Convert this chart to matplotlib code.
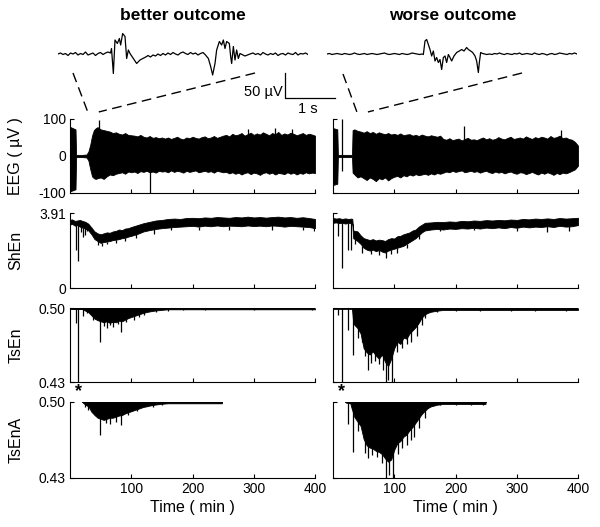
import numpy as np
import matplotlib
matplotlib.use("Agg")
import matplotlib.pyplot as plt
from matplotlib.lines import Line2D

plt.rcParams["font.family"] = ["Liberation Sans", "DejaVu Sans"]
plt.rcParams["axes.unicode_minus"] = False

# ---- raw EEG snippets shown on top (seconds, uV) ----
better_snip_t = np.concatenate([
    np.linspace(0, 1.05, 22),
    [1.07, 1.107, 1.14, 1.187, 1.227, 1.253, 1.293, 1.34, 1.373, 1.407, 1.44, 1.507, 1.573, 1.64, 1.773],
    np.linspace(1.80, 2.95, 24),
    [3.007, 3.053, 3.093, 3.14, 3.173, 3.227, 3.273, 3.307, 3.34, 3.373,
     3.427, 3.453, 3.473, 3.507, 3.54, 3.573, 3.607, 3.64, 3.74, 3.84],
    np.linspace(3.90, 5.0, 23),
])
better_snip_uv = np.array(
    [0, 2, -1, 1, -3, 2, 0, 3, -2, 1, -1, 4, -2, 0, 2, -3, 1, 3, -1, 2, 4, 2]
    + [11, -39, 28, 21, 31, 18, 41, 35, -9, 8, 1, -9, -19, -12, -5]
    + [-3, -6, -2, -4, 0, -3, 1, -2, 2, -1, 3, 0, -2, 2, 4, 1, -1, 3, 0, 2, -2, 1, 3, -2]
    + [-9, -25, -42, -19, 8, 25, 18, 28, 11, 25, 21, -5, -19, 15, -12, 8, -9, 1, -4, 0]
    + [2, -1, 1, -2, 3, 0, -2, 1, -1, 2, -3, 0, 1, -2, 2, 0, -1, 3, -2, 1, 0, 2, -1]
)
worse_snip_t = np.concatenate([
    np.linspace(0, 1.9, 39),
    [1.927, 1.96, 1.993, 2.027, 2.06, 2.093, 2.127, 2.16, 2.193, 2.227,
     2.26, 2.293, 2.327, 2.36, 2.393, 2.427, 2.46, 2.493, 2.54, 2.593,
     2.647, 2.693, 2.74, 2.793, 2.827, 2.873, 2.913, 2.96, 2.993, 3.027,
     3.047, 3.073, 3.113, 3.193],
    np.linspace(3.25, 5.0, 36),
])
worse_snip_uv = np.array(
    [0, 1, -1, 0, 1, 0, -1, 1, 0, -1, 0, 2, 0, -1, 0, 1, -1, 0, 1, 0,
     -1, 0, 1, 2, 0, -1, 0, 1, 0, -1, 1, 0, -1, 0, 2, 1, 0, -1, 0]
    + [-1, 26, 29, 19, 9, -4, 6, -14, -7, -17, -11, -31, -7, -4, -17, -1, -7, -14, -4, 3,
       6, 9, 6, 13, 9, 6, 3, -4, -14, -37, -17, 3, 1, -1]
    + [0, -1, 1, 0, 2, 0, -1, 1, 0, -1, 1, 0, 2, -1, 0, 1, 0, -1, 2, 0,
       -1, 1, 0, -2, 0, 1, -1, 0, 2, 1, 0, -1, 1, 0, 2, 0]
)

# ---- EEG amplitude envelopes (min, uV) ----
eeg_b_t = [0, 1, 9, 10, 12, 20, 27, 30, 33, 36, 39, 42, 45, 50, 55, 60, 65, 70, 75, 80, 85, 90, 95] + list(range(100, 401, 5))
eeg_b_hi = [75, 78, 72, 3, 3, 3, 4, 12, 30, 55, 70, 75, 78, 72, 70, 68, 66, 62, 64, 60, 58, 62, 57,
            56, 55, 53, 57, 52, 50, 54, 49, 51, 48, 50,
            47, 50, 46, 49, 52, 47, 45, 50, 48, 52, 49, 47, 51, 53, 48, 50, 54, 49, 52, 55,
            57, 53, 60, 56, 58, 62, 55, 59, 63, 57, 61, 58, 64, 60, 56, 62, 59, 65, 57, 61,
            58, 63, 60, 56, 59, 62, 57, 60, 58, 55]
eeg_b_lo = [-92, -95, -90, -3, -3, -3, -4, -12, -35, -55, -60, -62, -60, -58, -62, -55, -50, -52, -48, -46, -44, -48, -42,
            -44, -42, -46, -41, -43, -40, -44, -42, -45, -40, -42,
            -41, -44, -39, -43, -40, -42, -45, -40, -43, -41, -39, -44, -42, -40, -43, -41, -45, -40, -42, -44,
            -43, -47, -44, -48, -45, -50, -46, -44, -49, -45, -47, -51, -46, -44, -48, -45, -50, -46, -47, -49,
            -44, -48, -45, -50, -46, -48, -44, -47, -45, -46]
eeg_b_spk_t = [47, 131, 290, 335, 362]
eeg_b_spk_lo = [0, -100, 0, 0, 0]
eeg_b_spk_hi = [98, 0, 72, 75, 74]

eeg_w_t = [0, 1, 7, 8, 10, 20, 31, 32, 35, 40, 45, 50, 55, 60, 65, 70, 75, 80, 85, 90, 95] + list(range(100, 176, 5)) + list(range(180, 401, 5))
eeg_w_hi = [70, 75, 72, 3, 3, 3, 3, 70, 72, 68, 66, 63, 67, 62, 65, 60, 64, 61, 59, 62, 58,
            60, 57, 61, 56, 58, 59, 55, 57, 54, 58, 55, 53, 56, 54, 52, 55,
            46, 44, 48, 43, 45, 47, 42, 46, 49, 44, 45, 43, 47, 50, 45, 48, 44, 46, 51, 47,
            45, 49, 52, 46, 48, 50, 47, 53, 49, 46, 51, 48, 52, 50, 47, 54, 49, 51, 55, 48,
            50, 46, 44, 38, 28]
eeg_w_lo = [-72, -78, -75, -3, -3, -3, -3, -45, -50, -58, -55, -60, -65, -58, -62, -68, -60, -63, -58, -66, -60,
            -56, -54, -58, -52, -55, -50, -53, -49, -52, -50, -48, -51, -47, -50, -46, -48,
            -45, -42, -44, -40, -43, -41, -39, -44, -42, -40, -43, -41, -45, -42, -40, -44, -46, -42, -45, -43,
            -47, -44, -42, -46, -48, -44, -45, -49, -46, -43, -47, -50, -45, -48, -44, -47, -51, -46, -49, -45,
            -47, -44, -40, -36, -26]
eeg_w_spk_t = [14, 214, 372]
eeg_w_spk_lo = [-40, 0, 0]
eeg_w_spk_hi = [100, 80, 70]

# ---- Shannon entropy band ----
shen_b_t = [0, 3, 8, 12, 16, 20, 25, 30, 35, 40, 45, 50, 55, 60, 65, 70, 75, 80, 85, 90,
            95, 100, 110, 120, 130, 140, 150, 160, 170, 180, 190, 200, 210, 220, 230, 240, 250, 260, 270, 280,
            290, 300, 310, 320, 330, 340, 350, 360, 370, 380, 390, 400]
shen_b_hi = [3.55, 3.58, 3.5, 3.52, 3.55, 3.5, 3.45, 3.35, 3.15, 2.95, 2.85, 2.8, 2.85, 2.9, 2.88, 2.95, 2.98, 3.05, 3.02, 3.1,
             3.12, 3.18, 3.28, 3.38, 3.45, 3.52, 3.55, 3.6, 3.62, 3.6, 3.65, 3.66, 3.64, 3.68, 3.66, 3.7, 3.68, 3.66, 3.7, 3.68,
             3.72, 3.68, 3.7, 3.67, 3.7, 3.72, 3.68, 3.7, 3.66, 3.69, 3.65, 3.6]
shen_b_lo = [3.3, 3.35, 3.25, 3.28, 3.2, 3.15, 3.1, 3.0, 2.8, 2.55, 2.45, 2.35, 2.4, 2.42, 2.45, 2.5, 2.52, 2.55, 2.6, 2.62,
             2.68, 2.72, 2.82, 2.95, 3.02, 3.08, 3.12, 3.15, 3.18, 3.2, 3.22, 3.24, 3.2, 3.25, 3.22, 3.26, 3.22, 3.25, 3.24, 3.22,
             3.26, 3.23, 3.25, 3.22, 3.26, 3.24, 3.2, 3.24, 3.22, 3.2, 3.18, 3.12]
shen_b_spk_t = [10, 13, 18, 21, 24, 27, 46, 52, 60, 75, 90, 108, 137, 165, 210, 260, 330, 380, 398]
shen_b_spk_v = [2.0, 1.4, 2.9, 2.65, 2.75, 2.95, 2.25, 2.2, 2.3, 2.35, 2.45, 2.6, 2.8, 3.0, 3.05, 3.05, 3.05, 3.0, 2.95]

shen_w_t = [0, 5, 10, 15, 20, 25, 30, 31.5, 33, 40, 45, 50, 55, 60, 65, 70, 75, 80, 85, 90,
            95, 100, 105, 110, 115, 120, 125, 130, 135, 140, 145, 150, 160, 170, 180, 190, 200, 210, 220, 230,
            240, 250, 260, 270, 280, 290, 300, 310, 320, 330, 340, 350, 360, 370, 380, 390, 400]
shen_w_hi = [3.65, 3.62, 3.64, 3.6, 3.63, 3.6, 3.62, 3.6, 3.0, 2.95, 2.75, 2.6, 2.55, 2.5, 2.55, 2.48, 2.52, 2.5, 2.45, 2.55,
             2.6, 2.58, 2.7, 2.72, 2.8, 2.85, 2.9, 3.0, 3.05, 3.2, 3.3, 3.4, 3.42, 3.45, 3.44, 3.47, 3.45, 3.5, 3.48, 3.52,
             3.5, 3.54, 3.52, 3.55, 3.53, 3.57, 3.55, 3.6, 3.58, 3.62, 3.6, 3.63, 3.6, 3.65, 3.62, 3.64, 3.66]
shen_w_lo = [3.4, 3.42, 3.38, 3.4, 3.36, 3.4, 3.38, 3.35, 2.6, 2.45, 2.3, 2.1, 2.0, 1.95, 2.0, 1.92, 1.98, 1.9, 1.85, 1.95,
             2.0, 2.05, 2.1, 2.15, 2.2, 2.3, 2.4, 2.5, 2.6, 2.75, 2.9, 3.0, 3.05, 3.08, 3.05, 3.1, 3.08, 3.12, 3.1, 3.14,
             3.1, 3.15, 3.12, 3.16, 3.12, 3.18, 3.14, 3.2, 3.16, 3.2, 3.18, 3.22, 3.18, 3.24, 3.2, 3.22, 3.28]
shen_w_spk_t = [8, 14, 25, 30, 36, 48, 62, 75, 87, 95, 105, 120, 140, 175, 230, 300, 350, 385]
shen_w_spk_v = [2.7, 1.04, 2.0, 2.0, 2.3, 1.85, 1.75, 1.7, 1.57, 1.75, 1.85, 2.1, 2.55, 2.95, 3.0, 2.95, 2.9, 2.95]

# ---- Tsallis entropy (lower envelope, upper stays at 0.50) ----
tsen_b_t = [0, 20, 25, 30, 35, 40, 45, 50, 55, 60, 65, 70, 75, 80, 85, 90, 95, 100, 105, 110,
            115, 120, 125, 130, 135, 140, 145, 150, 160, 400]
tsen_b_lo = [0.4993, 0.499, 0.4975, 0.496, 0.493, 0.490, 0.4885, 0.4875, 0.4865, 0.4875,
             0.486, 0.487, 0.4865, 0.488, 0.4875, 0.489, 0.4905, 0.4915, 0.4925, 0.4935,
             0.4945, 0.4955, 0.4962, 0.4968, 0.4973, 0.4977, 0.498, 0.4983, 0.4988, 0.4988]
tsen_b_spk_t = [10, 13.6, 22, 28, 38, 49, 55, 60, 66, 70, 78, 84, 92, 105, 112, 120, 140, 160, 185, 220, 300, 395]
tsen_b_spk_v = [0.4857, 0.43, 0.492, 0.4955, 0.4885, 0.468, 0.483, 0.481, 0.4835, 0.482,
                0.4845, 0.4777, 0.4865, 0.489, 0.4915, 0.493, 0.4965, 0.4975, 0.498, 0.4982, 0.4982, 0.498]

tsen_w_t = [0, 31, 33, 35, 40, 45, 50, 55, 60, 65, 70, 75, 80, 85, 90, 95, 100, 105, 110, 115,
            120, 125, 130, 135, 140, 145, 150, 155, 160, 170, 180, 400]
tsen_w_lo = [0.4993, 0.4993, 0.486, 0.484, 0.481, 0.476, 0.462, 0.458, 0.456, 0.459,
             0.455, 0.452, 0.456, 0.449, 0.445, 0.452, 0.462, 0.468, 0.466, 0.472,
             0.471, 0.476, 0.479, 0.482, 0.486, 0.491, 0.494, 0.4955, 0.4965, 0.4975, 0.4982, 0.4982]
tsen_w_spk_t = [8, 14, 25, 32, 40, 47, 52, 57, 62, 68, 75, 82, 87, 90, 97, 105, 112, 120, 127, 137,
                145, 150, 170, 200, 240, 290, 330, 380]
tsen_w_spk_v = [0.4936, 0.43, 0.4793, 0.4555, 0.472, 0.468, 0.455, 0.441, 0.448, 0.450,
                0.447, 0.441, 0.43, 0.432, 0.43, 0.458, 0.462, 0.466, 0.468, 0.474,
                0.484, 0.491, 0.4965, 0.4975, 0.4972, 0.4975, 0.497, 0.4972]
artifact_t = [13.6, 14]  # marked with *

tsena_b_t = [21, 25, 30, 35, 40, 45, 50, 55, 60, 65, 70, 75, 80, 85, 90, 95, 100, 105, 110, 115,
             120, 125, 130, 135, 140, 145, 150, 160, 248]
tsena_b_lo = [0.4995, 0.4975, 0.496, 0.491, 0.488, 0.4855, 0.4845, 0.4835, 0.4845, 0.4855,
              0.4855, 0.4865, 0.4875, 0.488, 0.4895, 0.4905, 0.4915, 0.4925, 0.4935, 0.4945,
              0.4955, 0.496, 0.4967, 0.4972, 0.4977, 0.498, 0.4984, 0.4988, 0.4988]
tsena_b_spk_t = [25, 30, 49, 58, 66, 75, 84, 95, 110, 135, 150]
tsena_b_spk_v = [0.495, 0.4925, 0.4696, 0.481, 0.4795, 0.482, 0.4787, 0.488, 0.4915, 0.4955, 0.4972]

tsena_w_t = [21, 28, 30, 35, 40, 45, 50, 55, 60, 65, 70, 75, 80, 85, 90, 95, 100, 105, 110, 115,
             120, 125, 130, 135, 140, 145, 150, 155, 160, 170, 180, 249]
tsena_w_lo = [0.4995, 0.499, 0.495, 0.486, 0.482, 0.478, 0.466, 0.460, 0.458, 0.457,
              0.455, 0.454, 0.452, 0.448, 0.445, 0.447, 0.456, 0.462, 0.464, 0.468,
              0.470, 0.474, 0.477, 0.481, 0.485, 0.489, 0.492, 0.4945, 0.496, 0.4975, 0.4982, 0.4982]
tsena_w_spk_t = [25, 32, 40, 52, 57, 63, 72, 80, 87, 92, 98, 106, 113, 120, 127, 133, 140, 150, 175, 200, 225, 245]
tsena_w_spk_v = [0.480, 0.4538, 0.473, 0.453, 0.448, 0.451, 0.449, 0.444, 0.43, 0.433,
                 0.43, 0.452, 0.458, 0.460, 0.465, 0.468, 0.476, 0.485, 0.4975, 0.4972, 0.4975, 0.497]

titles = ["better outcome", "worse outcome"]
row_labels = ["EEG ( \u00b5V )", "ShEn", "TsEn", "TsEnA"]

fig = plt.figure(figsize=(6.0, 5.27), dpi=100)

col_x = [70 / 600, 333 / 600]
col_w = 245 / 600
rows = [(0.6338, 0.1404), (0.4535, 0.1423), (0.2751, 0.1404), (0.0930, 0.1442)]


def style(ax, left, ylim, yticks, yticklabels, bottom_row):
    ax.set_xlim(0, 400)
    ax.set_ylim(*ylim)
    for s in ("top", "right"):
        ax.spines[s].set_visible(False)
    for s in ("left", "bottom"):
        ax.spines[s].set_linewidth(0.8)
    ax.tick_params(direction="in", length=3, width=0.8, labelsize=10, pad=3)
    ax.set_xticks([100, 200, 300, 400])
    ax.set_yticks(yticks)
    if left:
        ax.set_yticklabels(yticklabels)
    else:
        ax.set_yticklabels([])
    if bottom_row:
        ax.set_xlabel("Time ( min )", fontsize=11.5, labelpad=3)
    else:
        ax.set_xticklabels([])


eeg = [(eeg_b_t, eeg_b_hi, eeg_b_lo, eeg_b_spk_t, eeg_b_spk_lo, eeg_b_spk_hi),
       (eeg_w_t, eeg_w_hi, eeg_w_lo, eeg_w_spk_t, eeg_w_spk_lo, eeg_w_spk_hi)]
shen = [(shen_b_t, shen_b_hi, shen_b_lo, shen_b_spk_t, shen_b_spk_v),
        (shen_w_t, shen_w_hi, shen_w_lo, shen_w_spk_t, shen_w_spk_v)]
tsen = [(tsen_b_t, tsen_b_lo, tsen_b_spk_t, tsen_b_spk_v),
        (tsen_w_t, tsen_w_lo, tsen_w_spk_t, tsen_w_spk_v)]
tsena = [(tsena_b_t, tsena_b_lo, tsena_b_spk_t, tsena_b_spk_v),
         (tsena_w_t, tsena_w_lo, tsena_w_spk_t, tsena_w_spk_v)]

axes = []
for c in range(2):
    left = c == 0
    col = []
    # EEG
    ax = fig.add_axes([col_x[c], rows[0][0], col_w, rows[0][1]])
    t, hi, lo, st, slo, shi = eeg[c]
    ax.fill_between(t, lo, hi, color="k", lw=0.6)
    ax.vlines(st, slo, shi, color="k", lw=0.9)
    style(ax, left, (-100, 100), [-100, 0, 100], ["-100", "0", "100"], False)
    col.append(ax)
    # ShEn
    ax = fig.add_axes([col_x[c], rows[1][0], col_w, rows[1][1]])
    t, hi, lo, st, sv = shen[c]
    ax.fill_between(t, lo, hi, color="k", lw=0.6)
    ax.vlines(st, np.interp(st, t, lo), sv, color="k", lw=0.9)
    style(ax, left, (0, 3.91), [0, 3.91], ["0", "3.91"], False)
    col.append(ax)
    # TsEn
    ax = fig.add_axes([col_x[c], rows[2][0], col_w, rows[2][1]])
    t, lo, st, sv = tsen[c]
    ax.fill_between(t, lo, 0.4998, color="k", lw=0.6)
    ax.plot([t[0], t[-1]], [0.4997, 0.4997], color="k", lw=1.4)
    ax.vlines(st, 0.4997, sv, color="k", lw=0.9)
    ax.text(artifact_t[c], -0.02, "*", transform=ax.get_xaxis_transform(),
            ha="center", va="top", fontsize=13, fontweight="bold")
    style(ax, left, (0.43, 0.50), [0.43, 0.50], ["0.43", "0.50"], False)
    col.append(ax)
    # TsEnA
    ax = fig.add_axes([col_x[c], rows[3][0], col_w, rows[3][1]])
    t, lo, st, sv = tsena[c]
    ax.fill_between(t, lo, 0.4998, color="k", lw=0.6)
    ax.plot([t[0], t[-1]], [0.4997, 0.4997], color="k", lw=1.4)
    ax.vlines(st, 0.4997, sv, color="k", lw=0.9)
    style(ax, left, (0.43, 0.50), [0.43, 0.50], ["0.43", "0.50"], True)
    col.append(ax)
    axes.append(col)

for r, lab in enumerate(row_labels):
    axes[0][r].set_ylabel(lab, fontsize=11.5)
    axes[0][r].yaxis.set_label_coords(-0.19, 0.5)

# snippets
snips = [(better_snip_t, better_snip_uv), (worse_snip_t, worse_snip_uv)]
snip_x = [58 / 600, 327 / 600]
insets = []
for c in range(2):
    ai = fig.add_axes([snip_x[c], 1 - 79 / 527, 250 / 600, 50 / 527])
    ai.plot(snips[c][0], snips[c][1], color="k", lw=0.9)
    ai.set_xlim(0, 5)
    ai.set_ylim(-50, 50)
    ai.axis("off")
    insets.append(ai)

# scale bar
ai = insets[0]
ai.plot([4.54, 4.54, 5.54], [-38, -88, -88], color="k", lw=0.9, clip_on=False)
ai.text(4.49, -76, "50 \u00b5V", ha="right", va="center", fontsize=10.5)
ai.text(5.0, -110, "1 s", ha="center", va="center", fontsize=10.5)

# zoom indicator lines: snippet point -> EEG panel point, via each axes' transData
zoom_links = [((0.3, -38), (29, 119), (47, 119), (3.94, -38)),
              ((0.32, -40), (39, 119), (57, 119), (3.9, -38))]
to_fig = fig.transFigure.inverted()
for c in range(2):
    a0, b0, b1, a1 = zoom_links[c]
    for pa, pb in ((a0, b0), (a1, b1)):
        p1 = to_fig.transform(insets[c].transData.transform(pa))
        p2 = to_fig.transform(axes[c][0].transData.transform(pb))
        fig.add_artist(Line2D([p1[0], p2[0]], [p1[1], p2[1]], transform=fig.transFigure,
                              color="k", lw=1.0, linestyle=(0, (7, 4))))

fig.text(183 / 600, 1 - 15 / 527, titles[0], ha="center", va="center", fontsize=12.5, fontweight="bold")
fig.text(453 / 600, 1 - 15 / 527, titles[1], ha="center", va="center", fontsize=12.5, fontweight="bold")

fig.savefig("out.png", dpi=100)
